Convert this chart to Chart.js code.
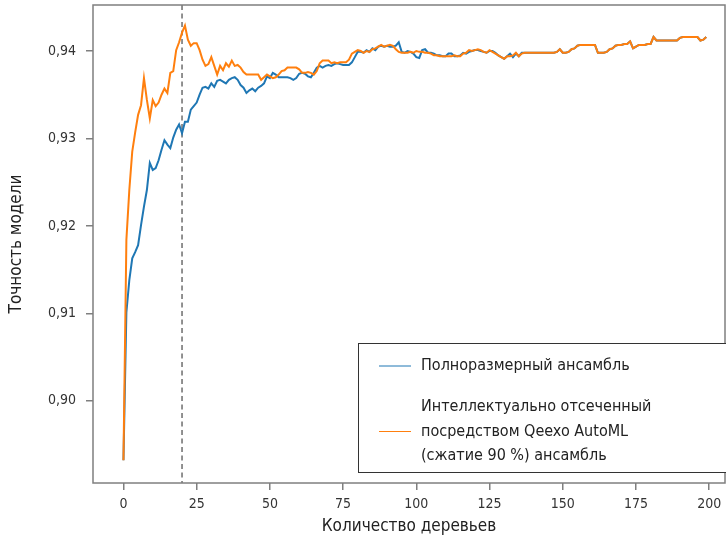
<!DOCTYPE html>
<html>
<head>
<meta charset="utf-8">
<script src="https://cdn.jsdelivr.net/npm/chart.js@4.4.0/dist/chart.umd.min.js"></script>
<style>
  html, body { margin: 0; padding: 0; background: #fff; }
  #wrap { width: 726px; height: 540px; }
</style>
</head>
<body>
<div id="wrap"><canvas id="chart" width="726" height="540"></canvas></div>
<script>
// number of trees
var trees = [];
for (var t = 0; t < 200; t++) trees.push(t);

// full ensemble accuracy
var fullAcc = [
  0.8932, 0.9101, 0.9138, 0.9163, 0.9170, 0.9178, 0.9201, 0.9222, 0.9241, 0.9272,
  0.9264, 0.9266, 0.9275, 0.9287, 0.9298, 0.9293, 0.9289, 0.9301, 0.9310, 0.9316,
  0.9306, 0.9319, 0.9319, 0.9333, 0.9337, 0.9341, 0.9350, 0.9358, 0.9359, 0.9357,
  0.9363, 0.9359, 0.9366, 0.9367, 0.9365, 0.9363, 0.9367, 0.9369, 0.9370, 0.9367,
  0.9361, 0.9358, 0.9352, 0.9355, 0.9357, 0.9354, 0.9358, 0.9360, 0.9363, 0.9371,
  0.9369, 0.9375, 0.9373, 0.9370, 0.9370, 0.9370, 0.9370, 0.9369, 0.9367, 0.9369,
  0.9374, 0.9375, 0.9374, 0.9371, 0.9370, 0.9375, 0.9381, 0.9383, 0.9381, 0.9383,
  0.9384, 0.9383, 0.9385, 0.9386, 0.9385, 0.9384, 0.9384, 0.9384, 0.9387, 0.9393,
  0.9399, 0.9399, 0.9398, 0.9401, 0.9399, 0.9403, 0.9401, 0.9405, 0.9406, 0.9405,
  0.9406, 0.9405, 0.9405, 0.9406, 0.9410, 0.9399, 0.9398, 0.9400, 0.9399, 0.9397,
  0.9393, 0.9392, 0.9401, 0.9402, 0.9398, 0.9398, 0.9397, 0.9395, 0.9395, 0.9394,
  0.9394, 0.9397, 0.9397, 0.9394, 0.9394, 0.9395, 0.9398, 0.9397, 0.9399, 0.9400,
  0.9401, 0.9401, 0.9400, 0.9399, 0.9398, 0.9400, 0.9400, 0.9398, 0.9395, 0.9393,
  0.9391, 0.9394, 0.9397, 0.9393, 0.9397, 0.9394, 0.9398, 0.9398, 0.9398, 0.9398,
  0.9398, 0.9398, 0.9398, 0.9398, 0.9398, 0.9398, 0.9398, 0.9398, 0.9399, 0.9402,
  0.9398, 0.9398, 0.9399, 0.9402, 0.9403, 0.9406, 0.9407, 0.9407, 0.9407, 0.9407,
  0.9407, 0.9407, 0.9398, 0.9398, 0.9398, 0.9399, 0.9402, 0.9403, 0.9406, 0.9407,
  0.9407, 0.9408, 0.9408, 0.9411, 0.9403, 0.9405, 0.9407, 0.9407, 0.9407, 0.9408,
  0.9408, 0.9416, 0.9412, 0.9412, 0.9412, 0.9412, 0.9412, 0.9412, 0.9412, 0.9412,
  0.9415, 0.9416, 0.9416, 0.9416, 0.9416, 0.9416, 0.9416, 0.9412, 0.9413, 0.9416
];

// pruned ensemble accuracy (Qeexo AutoML, 90 % compression)
var prunedAcc = [
  0.8932, 0.9184, 0.9241, 0.9285, 0.9307, 0.9327, 0.9338, 0.9369, 0.9344, 0.9323,
  0.9344, 0.9337, 0.9341, 0.9350, 0.9357, 0.9352, 0.9375, 0.9377, 0.9401, 0.9410,
  0.9421, 0.9429, 0.9413, 0.9406, 0.9409, 0.9409, 0.9401, 0.9390, 0.9383, 0.9385,
  0.9393, 0.9383, 0.9373, 0.9383, 0.9378, 0.9386, 0.9382, 0.9389, 0.9383, 0.9384,
  0.9381, 0.9376, 0.9373, 0.9373, 0.9373, 0.9373, 0.9373, 0.9367, 0.9370, 0.9373,
  0.9371, 0.9369, 0.9370, 0.9373, 0.9377, 0.9378, 0.9381, 0.9381, 0.9381, 0.9381,
  0.9379, 0.9375, 0.9375, 0.9376, 0.9375, 0.9373, 0.9377, 0.9386, 0.9389, 0.9389,
  0.9389, 0.9386, 0.9387, 0.9386, 0.9387, 0.9387, 0.9387, 0.9390, 0.9397, 0.9399,
  0.9401, 0.9400, 0.9398, 0.9400, 0.9399, 0.9402, 0.9403, 0.9405, 0.9407, 0.9405,
  0.9406, 0.9407, 0.9406, 0.9402, 0.9399, 0.9398, 0.9398, 0.9398, 0.9399, 0.9398,
  0.9400, 0.9399, 0.9399, 0.9398, 0.9398, 0.9397, 0.9395, 0.9395, 0.9394, 0.9394,
  0.9394, 0.9394, 0.9394, 0.9395, 0.9394, 0.9394, 0.9397, 0.9398, 0.9401, 0.9400,
  0.9401, 0.9402, 0.9401, 0.9399, 0.9398, 0.9401, 0.9399, 0.9397, 0.9395, 0.9393,
  0.9391, 0.9394, 0.9394, 0.9395, 0.9398, 0.9394, 0.9397, 0.9398, 0.9398, 0.9398,
  0.9398, 0.9398, 0.9398, 0.9398, 0.9398, 0.9398, 0.9398, 0.9398, 0.9399, 0.9402,
  0.9398, 0.9398, 0.9399, 0.9402, 0.9403, 0.9406, 0.9407, 0.9407, 0.9407, 0.9407,
  0.9407, 0.9407, 0.9398, 0.9398, 0.9398, 0.9399, 0.9402, 0.9403, 0.9406, 0.9407,
  0.9407, 0.9408, 0.9408, 0.9411, 0.9403, 0.9405, 0.9407, 0.9407, 0.9407, 0.9408,
  0.9408, 0.9416, 0.9412, 0.9412, 0.9412, 0.9412, 0.9412, 0.9412, 0.9412, 0.9412,
  0.9415, 0.9416, 0.9416, 0.9416, 0.9416, 0.9416, 0.9416, 0.9412, 0.9413, 0.9416
];

var xTicks = [0, 25, 50, 75, 100, 125, 150, 175, 200];
var yTicks = [0.90, 0.91, 0.92, 0.93, 0.94];
var cutTrees = 20;

var fullName = ['Полноразмерный ансамбль'];
var prunedName = ['Интеллектуально отсеченный', 'посредством Qeexo AutoML', '(сжатие 90 %) ансамбль'];

var FONT = "'Liberation Sans Narrow', 'DejaVu Sans Condensed', 'Roboto', sans-serif";
var BLUE = '#1f77b4';
var ORANGE = '#ff7f0e';

function pts(ys) {
  return ys.map(function (v, i) { return { x: trees[i], y: v }; });
}

// dashed vertical line + box around the plot + legend
var frame = {
  id: 'frame',
  beforeDatasetsDraw: function (chart) {
    var c = chart.ctx, a = chart.chartArea;
    var x = chart.scales.x.getPixelForValue(cutTrees);
    c.save();
    c.strokeStyle = '#6e6e6e';
    c.lineWidth = 1.5;
    c.setLineDash([5, 3.5]);
    c.beginPath();
    c.moveTo(x, a.top);
    c.lineTo(x, a.bottom);
    c.stroke();
    c.restore();
  },
  afterDraw: function (chart) {
    var c = chart.ctx, a = chart.chartArea;
    c.save();
    c.strokeStyle = '#7f7f7f';
    c.lineWidth = 1.5;
    c.strokeRect(a.left, a.top, a.right - a.left, a.bottom - a.top);

    // legend box
    c.fillStyle = '#fff';
    c.fillRect(358, 343, 380, 130);
    c.strokeStyle = '#333';
    c.lineWidth = 1;
    c.strokeRect(358.5, 343.5, 380, 129);

    c.font = '16px ' + FONT;
    c.fillStyle = '#222';
    c.textBaseline = 'middle';
    c.lineWidth = 1;

    var entries = [[fullName, BLUE, 366], [prunedName, ORANGE, 407]];
    entries.forEach(function (e) {
      var lines = e[0], y0 = e[2];
      var mid = y0 + (lines.length - 1) * 24.5 / 2;
      c.strokeStyle = e[1];
      c.beginPath();
      c.moveTo(379, mid);
      c.lineTo(411, mid);
      c.stroke();
      lines.forEach(function (s, k) {
        c.fillText(s, 421, y0 + k * 24.5);
      });
    });
    c.restore();
  }
};

new Chart(document.getElementById('chart'), {
  type: 'line',
  data: {
    datasets: [{
      label: prunedName.join(' '),
      data: pts(prunedAcc),
      borderColor: ORANGE,
      borderWidth: 2,
      pointRadius: 0,
      tension: 0,
      fill: false,
      order: 0
    }, {
      label: fullName.join(' '),
      data: pts(fullAcc),
      borderColor: BLUE,
      borderWidth: 2,
      pointRadius: 0,
      tension: 0,
      fill: false,
      order: 1
    }]
  },
  options: {
    responsive: false,
    animation: false,
    layout: { padding: { top: 5, right: 1, left: 0, bottom: 0 } },
    plugins: {
      legend: { display: false },
      tooltip: { enabled: false }
    },
    scales: {
      x: {
        type: 'linear',
        min: -10.4,
        max: 205.4,
        afterFit: function (s) { s.height = 57; s.paddingLeft = 0; s.paddingRight = 0; },
        afterBuildTicks: function (s) {
          s.ticks = xTicks.map(function (v) { return { value: v }; });
        },
        grid: { drawOnChartArea: false, drawTicks: true, tickLength: 7, color: '#7f7f7f', lineWidth: 1.5 },
        border: { display: false },
        ticks: { color: '#333', padding: 6, maxRotation: 0, font: { family: FONT, size: 14 } },
        title: {
          display: true,
          text: 'Количество деревьев',
          color: '#222',
          padding: { top: 0, bottom: 3 },
          font: { family: FONT, size: 17 }
        }
      },
      y: {
        min: 0.8906,
        max: 0.94526,
        afterFit: function (s) { s.width = 93; s.paddingTop = 0; s.paddingBottom = 0; },
        afterBuildTicks: function (s) {
          s.ticks = yTicks.map(function (v) { return { value: v }; });
        },
        grid: { drawOnChartArea: false, drawTicks: true, tickLength: 7, color: '#7f7f7f', lineWidth: 1.5 },
        border: { display: false },
        ticks: {
          color: '#333',
          padding: 10,
          font: { family: FONT, size: 14 },
          callback: function (v) { return v.toFixed(2).replace('.', ','); }
        },
        title: {
          display: true,
          text: 'Точность модели',
          color: '#222',
          padding: { top: 6, bottom: 0 },
          font: { family: FONT, size: 17 }
        }
      }
    }
  },
  plugins: [frame]
});
</script>
</body>
</html>
